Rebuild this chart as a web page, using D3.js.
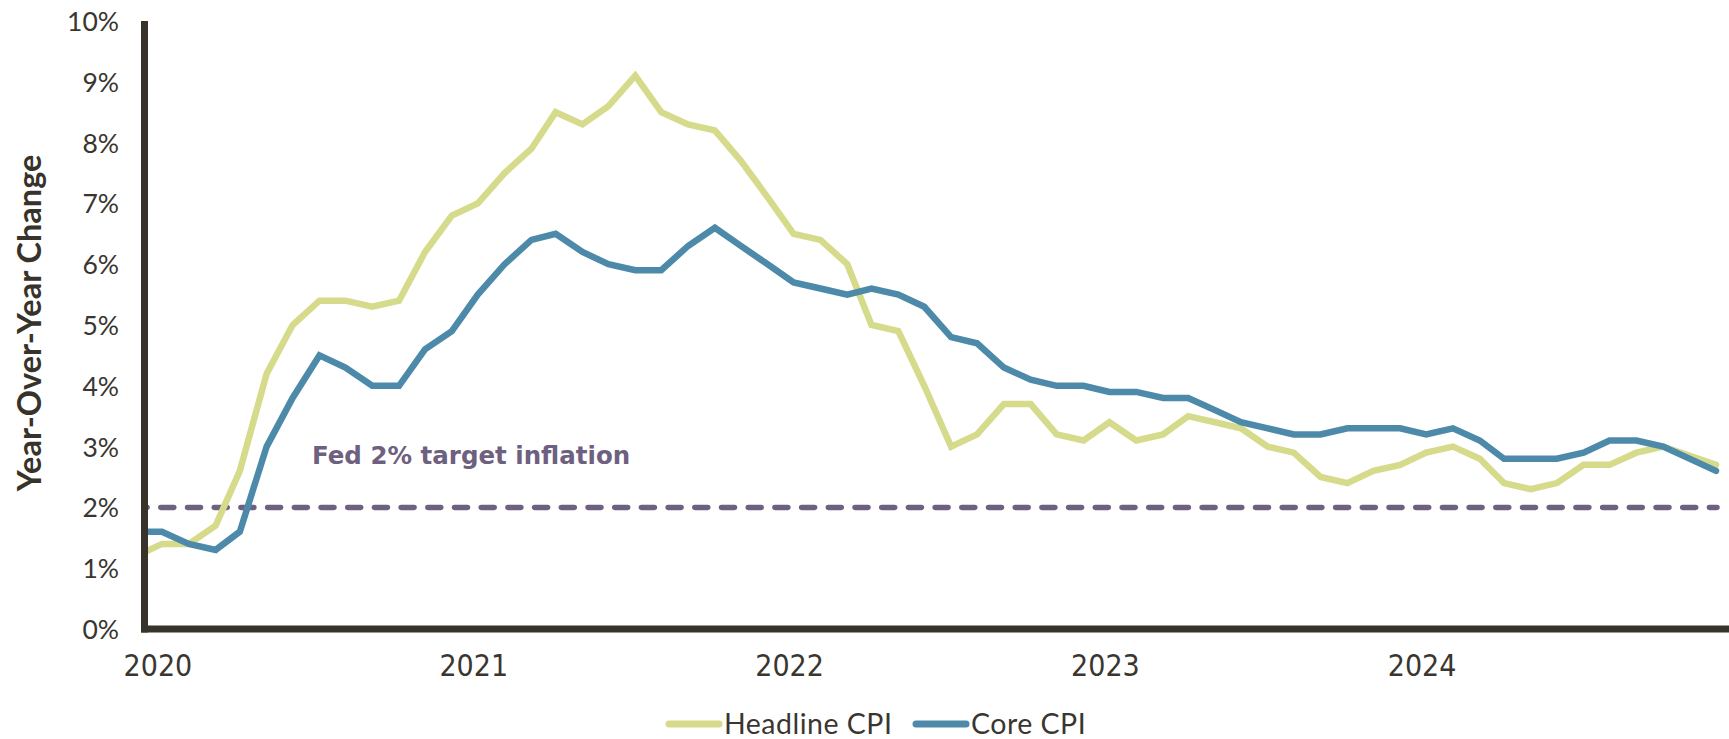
<!DOCTYPE html>
<html>
<head>
<meta charset="utf-8">
<script src="https://cdn.jsdelivr.net/npm/d3@7"></script>
<style>
  html, body { margin: 0; padding: 0; background: #ffffff; }
  svg { display: block; }
</style>
</head>
<body>
<svg id="chart" width="1729" height="739"></svg>
<script>
// ---- data ----
const months = [
  "2020-11","2020-12",
  "2021-01","2021-02","2021-03","2021-04","2021-05","2021-06","2021-07","2021-08","2021-09","2021-10","2021-11","2021-12",
  "2022-01","2022-02","2022-03","2022-04","2022-05","2022-06","2022-07","2022-08","2022-09","2022-10","2022-11","2022-12",
  "2023-01","2023-02","2023-03","2023-04","2023-05","2023-06","2023-07","2023-08","2023-09","2023-10","2023-11","2023-12",
  "2024-01","2024-02","2024-03","2024-04","2024-05","2024-06","2024-07","2024-08","2024-09","2024-10","2024-11","2024-12",
  "2025-01","2025-02","2025-03","2025-04","2025-05","2025-06","2025-07","2025-08","2025-09","2025-11"
];
const headlineCPI = [
  1.2,1.4,
  1.4,1.7,2.6,4.2,5.0,5.4,5.4,5.3,5.4,6.2,6.8,7.0,
  7.5,7.9,8.5,8.3,8.6,9.1,8.5,8.3,8.2,7.7,7.1,6.5,
  6.4,6.0,5.0,4.9,4.0,3.0,3.2,3.7,3.7,3.2,3.1,3.4,
  3.1,3.2,3.5,3.4,3.3,3.0,2.9,2.5,2.4,2.6,2.7,2.9,
  3.0,2.8,2.4,2.3,2.4,2.7,2.7,2.9,3.0,2.7
];
const coreCPI = [
  1.6,1.6,
  1.4,1.3,1.6,3.0,3.8,4.5,4.3,4.0,4.0,4.6,4.9,5.5,
  6.0,6.4,6.5,6.2,6.0,5.9,5.9,6.3,6.6,6.3,6.0,5.7,
  5.6,5.5,5.6,5.5,5.3,4.8,4.7,4.3,4.1,4.0,4.0,3.9,
  3.9,3.8,3.8,3.6,3.4,3.3,3.2,3.2,3.3,3.3,3.3,3.2,
  3.3,3.1,2.8,2.8,2.8,2.9,3.1,3.1,3.0,2.6
];
const yTicks = [0,1,2,3,4,5,6,7,8,9,10];
const yearTickDates = ["2020-12","2021-12","2022-12","2023-12","2024-12"];
const yearTickLabels = ["2020","2021","2022","2023","2024"];
const fedTarget = 2;
const seriesNames = ["Headline CPI","Core CPI"];
const seriesColors = ["#d5db8a","#4d8aa9"];

// ---- drawing ----
const parse = d3.timeParse("%Y-%m");
const dates = months.map(parse);
const svg = d3.select("#chart");
const W = 1729, H = 739;
const axisX = 144.5, axisY = 629;
const ink = "#37332b";

const x = d3.scaleTime().domain([dates[0], dates[dates.length - 1]]).range([136, 1716]);
const y = d3.scaleLinear().domain([0, 10]).range([629, 21]);

svg.append("rect").attr("width", W).attr("height", H).attr("fill", "#fff");

svg.append("defs").append("clipPath").attr("id", "plotclip")
  .append("rect").attr("x", axisX).attr("y", 0).attr("width", W - axisX).attr("height", axisY);

// Fed target dashed line
svg.append("line")
  .attr("x1", axisX).attr("x2", x(dates[dates.length - 1]) + 1)
  .attr("y1", y(fedTarget)).attr("y2", y(fedTarget))
  .attr("stroke", "#6e607f").attr("stroke-width", 5.5)
  .attr("stroke-linecap", "round")
  .attr("stroke-dasharray", "13,13.7").attr("stroke-dashoffset", 10.4);

svg.append("text")
  .attr("x", 312).attr("y", 455)
  .attr("dominant-baseline", "central")
  .attr("font-family", "'DejaVu Sans', Lato, sans-serif")
  .attr("font-weight", 700).attr("font-size", 24.5)
  .attr("fill", "#6e607f")
  .text("Fed 2% target inflation");

const line = d3.line().x((d, i) => x(dates[i])).y(d => y(d));
const g = svg.append("g").attr("clip-path", "url(#plotclip)");
[headlineCPI, coreCPI].forEach((s, k) => {
  g.append("path").datum(s).attr("d", line)
    .attr("fill", "none").attr("stroke", seriesColors[k])
    .attr("stroke-width", 6.5).attr("stroke-linejoin", "miter")
    .attr("stroke-linecap", "round");
});

// axes lines
svg.append("line").attr("x1", axisX).attr("x2", axisX)
  .attr("y1", y(10)).attr("y2", axisY + 3.5)
  .attr("stroke", ink).attr("stroke-width", 7);
svg.append("line").attr("x1", axisX - 3.5).attr("x2", W)
  .attr("y1", axisY).attr("y2", axisY)
  .attr("stroke", ink).attr("stroke-width", 7);

// y tick labels
svg.append("g").selectAll("text").data(yTicks).join("text")
  .attr("x", 119).attr("y", d => y(d))
  .attr("text-anchor", "end").attr("dominant-baseline", "central")
  .attr("font-family", "Lato, 'Noto Sans', sans-serif")
  .attr("font-size", 26.5).attr("fill", "#3a362f")
  .text(d => d + "%");

// x tick labels
svg.append("g").selectAll("text").data(yearTickDates).join("text")
  .attr("x", d => x(parse(d)) - 4).attr("y", 665)
  .attr("text-anchor", "middle").attr("dominant-baseline", "central")
  .attr("font-family", "'Liberation Sans Narrow', 'DejaVu Sans Condensed', sans-serif")
  .attr("font-stretch", "condensed")
  .attr("font-size", 30).attr("fill", "#3a362f")
  .text((d, i) => yearTickLabels[i]);

// y-axis title
svg.append("text")
  .attr("transform", "translate(28,323) rotate(-90)")
  .attr("text-anchor", "middle").attr("dominant-baseline", "central")
  .attr("font-family", "Lato, 'Noto Sans', sans-serif")
  .attr("font-weight", 700).attr("font-size", 32.5)
  .attr("fill", ink)
  .text("Year-Over-Year Change");

// legend
const legend = svg.append("g");
const legendItems = [{x: 666}, {x: 913}];
seriesNames.forEach((name, k) => {
  const lx = legendItems[k].x;
  legend.append("line").attr("x1", lx + 3).attr("x2", lx + 53)
    .attr("y1", 724).attr("y2", 724)
    .attr("stroke", seriesColors[k]).attr("stroke-width", 7).attr("stroke-linecap", "round");
  legend.append("text").attr("x", lx + 58).attr("y", 723)
    .attr("dominant-baseline", "central")
    .attr("font-family", "Lato, 'Noto Sans', sans-serif")
    .attr("font-size", 28.5).attr("letter-spacing", 0.5).attr("fill", "#3a362f")
    .text(name);
});
</script>
</body>
</html>
